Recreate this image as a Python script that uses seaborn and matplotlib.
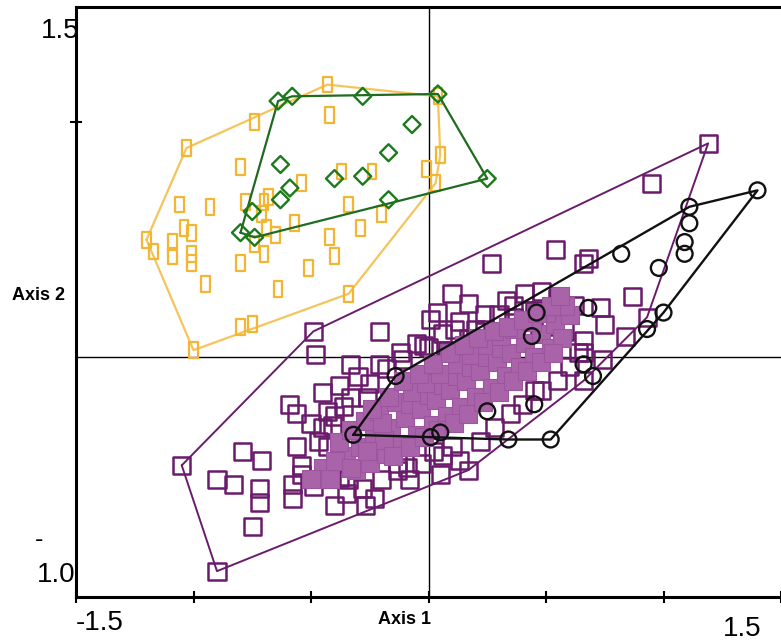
import numpy as np
import pandas as pd
import matplotlib
matplotlib.use("Agg")
import matplotlib.pyplot as plt
import seaborn as sns
from matplotlib.path import Path

# ---------------- data (ordination scores) ----------------
orange_x = [-0.43, -0.74, -1.03, -1.20, -1.17, -1.00, -0.80, -0.75, -0.34, 0.03, 0.05, 0.04,
            -0.42, -0.80, -1.06, -0.93, -0.78, -0.70, -0.68, -1.04, -1.01, -1.09, -1.09, -1.01,
            -1.01, -0.95, -0.80, -0.74, -0.70, -0.69, -0.65, -0.71, -0.57, -0.54, -0.37, -0.24,
            -0.01, -0.34, -0.20, -0.29, -0.42, -0.40, -0.51, -0.64]
orange_y = [1.16, 1.00, 0.89, 0.50, 0.45, 0.03, 0.13, 0.14, 0.27, 0.74, 0.86, 1.11,
            1.03, 0.81, 0.65, 0.64, 0.66, 0.66, 0.68, 0.55, 0.53, 0.49, 0.43, 0.44,
            0.40, 0.31, 0.40, 0.48, 0.44, 0.55, 0.52, 0.61, 0.57, 0.74, 0.79, 0.79,
            0.80, 0.65, 0.61, 0.55, 0.51, 0.43, 0.38, 0.29]

green_x = [-0.64, -0.58, -0.28, 0.04, 0.25, -0.17, -0.07, -0.17, -0.28, -0.40, -0.63,
           -0.59, -0.63, -0.75, -0.80, -0.74]
green_y = [1.09, 1.11, 1.11, 1.12, 0.76, 0.67, 0.99, 0.87, 0.77, 0.76, 0.82,
           0.72, 0.67, 0.62, 0.53, 0.51]

purple_x = [1.19, 0.95, 0.54, 0.68, 0.66, 0.87, 0.84, 0.93, 0.73, 0.75, 0.74, 0.66, 0.62,
            0.66, 0.66, 0.27, -0.21, -0.21, 0.10, 0.17, 0.33, 0.04, 0.11, 0.01, 0.41, 0.48,
            0.36, 0.50, 0.17, -0.11, -0.49, -0.48, -0.33, -0.59, -0.56, -0.43, -0.36, -0.33,
            -0.45, -0.41, -0.79, -0.56, -0.43, -1.05, -0.71, -0.90, -0.83, -0.72, -0.72,
            -0.75, -0.90, -0.58, -0.58, -0.54, -0.49, -0.43, -0.40, -0.35, -0.38, -0.54,
            -0.27, -0.25, 0.17, -0.08, -0.23, -0.09, -0.13, 0.06, 0.14, 0.45, -0.02, 0.24,
            0.30, 0.52,
            -0.45, -0.38, -0.30, -0.26, -0.18, -0.12, -0.05, 0.00, 0.06, 0.08, 0.13, 0.20,
            0.24, 0.28, 0.36, 0.40, 0.45, 0.55, 0.58, -0.40, -0.50, -0.47,
            -0.20, -0.13, -0.03, 0.02, 0.10, 0.22, 0.28, 0.35, 0.40, 0.48, 0.55, 0.60,
            0.64, -0.28, -0.34, 0.13, 0.05]
purple_y = [0.91, 0.74, 0.46, 0.42, 0.40, 0.26, 0.09, 0.17, 0.21, 0.14, -0.01, -0.10, 0.22,
            0.07, 0.02, 0.40, 0.11, -0.03, 0.27, 0.23, 0.24, 0.19, 0.12, 0.16, 0.27, 0.28,
            0.17, 0.13, 0.08, -0.01, 0.11, 0.01, -0.03, -0.20, -0.24, -0.23, -0.21, -0.17,
            -0.30, -0.29, -0.40, -0.38, -0.38, -0.46, -0.44, -0.52, -0.54, -0.56, -0.62,
            -0.72, -0.91, -0.54, -0.60, -0.50, -0.55, -0.50, -0.63, -0.58, -0.51, -0.46,
            -0.63, -0.11, -0.48, -0.52, -0.60, -0.47, -0.45, -0.42, -0.08, -0.14, 0.05, 0.12,
            0.18, 0.16,
            -0.15, -0.12, -0.08, -0.17, -0.05, 0.02, 0.06, 0.04, 0.10, 0.03, 0.15, 0.12,
            0.18, 0.09, 0.22, 0.13, 0.20, 0.25, 0.11, -0.25, -0.28, -0.36,
            -0.52, -0.48, -0.45, -0.40, -0.38, -0.36, -0.30, -0.24, -0.20, -0.14, -0.10, -0.04,
            0.02, -0.56, -0.52, -0.44, -0.50]

core_x = [-0.35, -0.31, -0.38, -0.29, -0.25, -0.33, -0.23, -0.18, -0.27, -0.16, -0.12, -0.21,
          -0.19, -0.10, -0.05, -0.14, -0.08, -0.03, 0.02, -0.07, 0.00, 0.03, 0.08, -0.01, 0.06,
          0.09, 0.14, 0.05, 0.12, 0.16, 0.20, 0.12, 0.18, 0.22, 0.27, 0.18, 0.25, 0.29, 0.33,
          0.25, 0.31, 0.35, 0.39, 0.31, 0.41, 0.45, 0.37, 0.48, 0.52, 0.44, 0.54, 0.57, 0.50,
          0.60, 0.58, -0.45, -0.50, -0.42,
          -0.40, -0.33, -0.26, -0.20, -0.15, -0.08, -0.02, 0.04, 0.11, 0.17, 0.23, 0.30,
          0.36, 0.42, 0.48, 0.53, -0.24, -0.17, -0.11, -0.04, 0.02, 0.09, 0.15, 0.21,
          0.28, 0.34, 0.40, 0.46, 0.52, 0.56]
core_y = [-0.42, -0.48, -0.36, -0.38, -0.45, -0.31, -0.34, -0.41, -0.27, -0.30, -0.37, -0.23,
          -0.35, -0.26, -0.33, -0.19, -0.20, -0.22, -0.29, -0.15, -0.16, -0.18, -0.25, -0.11,
          -0.12, -0.14, -0.21, -0.07, -0.08, -0.10, -0.17, -0.03, -0.04, -0.06, -0.13, 0.01,
          0.00, -0.02, -0.08, 0.05, 0.04, 0.02, -0.04, 0.09, 0.06, 0.00, 0.12, 0.10, 0.04,
          0.15, 0.14, 0.08, 0.19, 0.18, 0.22, -0.47, -0.52, -0.52,
          -0.44, -0.47, -0.40, -0.28, -0.42, -0.38, -0.34, -0.31, -0.28, -0.24, -0.19, -0.15,
          -0.10, -0.06, -0.02, 0.02, -0.22, -0.17, -0.10, -0.07, -0.03, 0.02, 0.05, 0.08,
          0.11, 0.13, 0.16, 0.19, 0.22, 0.26]

black_x = [1.40, 1.11, 1.11, 1.09, 1.09, 0.98, 0.82, 1.00, 0.93, 0.68, 0.46, 0.44, 0.66,
           0.70, 0.45, 0.34, 0.52, -0.14, -0.32, 0.25, 0.05, 0.01]
black_y = [0.71, 0.64, 0.57, 0.49, 0.44, 0.38, 0.44, 0.19, 0.12, 0.21, 0.19, 0.09, -0.03,
           -0.08, -0.20, -0.35, -0.35, -0.08, -0.33, -0.23, -0.32, -0.34]

x_tick_values = [-1.5, -1.0, -0.5, 0.0, 0.5, 1.0, 1.5]
y_tick_values = [1.0]

# ---------------- colours ----------------
ORANGE = "#F2B632"
ORANGE_LINE = "#F5C45A"
GREEN = "#1C7A1C"
GREEN_LINE = "#1F6B1F"
PURPLE = "#6A1B6C"
PURPLE_CORE = "#A964A9"
PURPLE_CORE_EDGE = "#9C559E"
BLACK = "#111111"


def convex_hull(xs, ys):
    pts = sorted(set(zip(xs, ys)))

    def cross(o, a, b):
        return (a[0] - o[0]) * (b[1] - o[1]) - (a[1] - o[1]) * (b[0] - o[0])

    lower = []
    for p in pts:
        while len(lower) >= 2 and cross(lower[-2], lower[-1], p) <= 0:
            lower.pop()
        lower.append(p)
    upper = []
    for p in reversed(pts):
        while len(upper) >= 2 and cross(upper[-2], upper[-1], p) <= 0:
            upper.pop()
        upper.append(p)
    h = lower[:-1] + upper[:-1]
    h.append(h[0])
    return [p[0] for p in h], [p[1] for p in h]


sns.set_theme(style="white")
plt.rcParams['font.family'] = ['Liberation Sans', 'DejaVu Sans']

W, H = 781, 643
fig = plt.figure(figsize=(W / 100, H / 100), dpi=100)
ax = fig.add_axes([76 / W, 1 - 597 / H, (W - 76) / W, (597 - 7) / H])
ax.set_xlim(-1.5, 1.5)
ax.set_ylim(-1.02, 1.49)

# cross-hair lines through origin
ax.axvline(0, color="black", lw=1.0, zorder=1)
ax.axhline(0, color="black", lw=1.0, zorder=1)

rect_marker = Path([(-0.55, -1), (0.55, -1), (0.55, 1), (-0.55, 1), (-0.55, -1)],
                   [Path.MOVETO, Path.LINETO, Path.LINETO, Path.LINETO, Path.CLOSEPOLY])

df_o = pd.DataFrame({"x": orange_x, "y": orange_y})
df_g = pd.DataFrame({"x": green_x, "y": green_y})
df_p = pd.DataFrame({"x": purple_x, "y": purple_y})
df_c = pd.DataFrame({"x": core_x, "y": core_y})
df_b = pd.DataFrame({"x": black_x, "y": black_y})

# orange group
hx, hy = convex_hull(orange_x, orange_y)
ax.plot(hx, hy, color=ORANGE_LINE, lw=1.6, zorder=2)
sns.scatterplot(data=df_o, x="x", y="y", ax=ax, marker=rect_marker, s=130,
                facecolor="none", edgecolor=ORANGE, linewidth=1.6, zorder=3, legend=False)

# green group
hx, hy = convex_hull(green_x, green_y)
ax.plot(hx, hy, color=GREEN_LINE, lw=1.6, zorder=4)
sns.scatterplot(data=df_g, x="x", y="y", ax=ax, marker="D", s=75,
                facecolor="none", edgecolor=GREEN, linewidth=1.7, zorder=5, legend=False)

# purple group
sns.scatterplot(data=df_p, x="x", y="y", ax=ax, marker="s", s=150,
                facecolor="none", edgecolor=PURPLE, linewidth=1.8, zorder=3, legend=False)
sns.scatterplot(data=df_c, x="x", y="y", ax=ax, marker="s", s=150,
                facecolor=PURPLE_CORE, edgecolor=PURPLE_CORE_EDGE, linewidth=0.8,
                zorder=3.5, legend=False)
hx, hy = convex_hull(purple_x + core_x, purple_y + core_y)
ax.plot(hx, hy, color=PURPLE, lw=1.4, zorder=4)

# black group
hx, hy = convex_hull(black_x, black_y)
ax.plot(hx, hy, color=BLACK, lw=1.7, zorder=6)
sns.scatterplot(data=df_b, x="x", y="y", ax=ax, marker="o", s=130,
                facecolor="none", edgecolor=BLACK, linewidth=1.7, zorder=7, legend=False)

# axes styling
for side in ["left", "bottom", "top"]:
    ax.spines[side].set_visible(True)
    ax.spines[side].set_color("black")
    ax.spines[side].set_linewidth(2.2)
ax.spines["right"].set_visible(False)
ax.set_xticks(x_tick_values)
ax.set_yticks(y_tick_values)
ax.set_xticklabels([])
ax.set_yticklabels([])
ax.tick_params(axis="both", direction="inout", length=8, width=1.5, color="black",
               bottom=True, left=True)
ax.set_xlabel("")
ax.set_ylabel("")

# corner value labels and axis titles (placed as in the reference)
def ptext(px, py, s, **kw):
    fig.text(px / W, 1 - py / H, s, ha="center", va="center", **kw)

ptext(60, 31, "1.5", fontsize=20, color="black")
ptext(56, 575, "1.0", fontsize=20, color="black")
ptext(39, 540, "-", fontsize=18, color="black")
ptext(100, 623, "-1.5", fontsize=20, color="black")
ptext(742, 629, "1.5", fontsize=20, color="black")
ptext(404, 619, "Axis 1", fontsize=13, fontweight="bold", color="black")
ptext(39, 295, "Axis 2", fontsize=13, fontweight="bold", color="black")

fig.savefig("out.png", dpi=100)
